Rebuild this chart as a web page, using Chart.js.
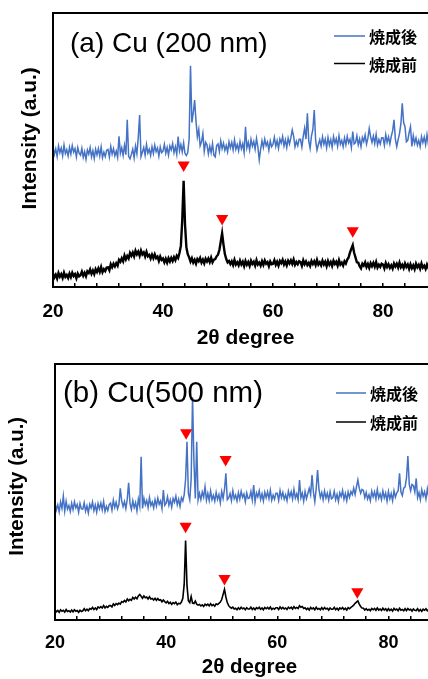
<!DOCTYPE html>
<html>
<head>
<meta charset="utf-8">
<script src="https://cdn.jsdelivr.net/npm/chart.js@4.4.0/dist/chart.umd.min.js"></script>
<style>
html, body { margin: 0; padding: 0; background: #fff; width: 428px; height: 679px; overflow: hidden; position: relative; }
canvas { position: absolute; left: 0; }
#chart_a { top: 0; }
#chart_b { top: 345px; }
</style>
</head>
<body>
<canvas id="chart_a" width="455" height="355"></canvas>
<canvas id="chart_b" width="460" height="340"></canvas>
<script>
// 2theta grid (degree), same for every pattern
var twoTheta = [
  20, 20.25, 20.5, 20.75, 21, 21.25, 21.5, 21.75, 22, 22.25, 22.5, 22.75, 23, 23.25, 23.5, 23.75, 24, 24.25, 24.5, 24.75,
  25, 25.25, 25.5, 25.75, 26, 26.25, 26.5, 26.75, 27, 27.25, 27.5, 27.75, 28, 28.25, 28.5, 28.75, 29, 29.25, 29.5, 29.75,
  30, 30.25, 30.5, 30.75, 31, 31.25, 31.5, 31.75, 32, 32.25, 32.5, 32.75, 33, 33.25, 33.5, 33.75, 34, 34.25, 34.5, 34.75,
  35, 35.25, 35.5, 35.75, 36, 36.25, 36.5, 36.75, 37, 37.25, 37.5, 37.75, 38, 38.25, 38.5, 38.75, 39, 39.25, 39.5, 39.75,
  40, 40.25, 40.5, 40.75, 41, 41.25, 41.5, 41.75, 42, 42.25, 42.5, 42.75, 43, 43.25, 43.5, 43.75, 44, 44.25, 44.5, 44.75,
  45, 45.25, 45.5, 45.75, 46, 46.25, 46.5, 46.75, 47, 47.25, 47.5, 47.75, 48, 48.25, 48.5, 48.75, 49, 49.25, 49.5, 49.75,
  50, 50.25, 50.5, 50.75, 51, 51.25, 51.5, 51.75, 52, 52.25, 52.5, 52.75, 53, 53.25, 53.5, 53.75, 54, 54.25, 54.5, 54.75,
  55, 55.25, 55.5, 55.75, 56, 56.25, 56.5, 56.75, 57, 57.25, 57.5, 57.75, 58, 58.25, 58.5, 58.75, 59, 59.25, 59.5, 59.75,
  60, 60.25, 60.5, 60.75, 61, 61.25, 61.5, 61.75, 62, 62.25, 62.5, 62.75, 63, 63.25, 63.5, 63.75, 64, 64.25, 64.5, 64.75,
  65, 65.25, 65.5, 65.75, 66, 66.25, 66.5, 66.75, 67, 67.25, 67.5, 67.75, 68, 68.25, 68.5, 68.75, 69, 69.25, 69.5, 69.75,
  70, 70.25, 70.5, 70.75, 71, 71.25, 71.5, 71.75, 72, 72.25, 72.5, 72.75, 73, 73.25, 73.5, 73.75, 74, 74.25, 74.5, 74.75,
  75, 75.25, 75.5, 75.75, 76, 76.25, 76.5, 76.75, 77, 77.25, 77.5, 77.75, 78, 78.25, 78.5, 78.75, 79, 79.25, 79.5, 79.75,
  80, 80.25, 80.5, 80.75, 81, 81.25, 81.5, 81.75, 82, 82.25, 82.5, 82.75, 83, 83.25, 83.5, 83.75, 84, 84.25, 84.5, 84.75,
  85, 85.25, 85.5, 85.75, 86, 86.25, 86.5, 86.75, 87, 87.25, 87.5, 87.75, 88, 88.25, 88.5, 88.75, 89, 89.25, 89.5, 89.75,
  90
];

// (a) Cu 200 nm
var afterA = [
  51.2, 48.4, 50.4, 47.6, 51.5, 49.0, 50.7, 47.9, 51.8, 48.7, 50.1, 47.8, 51.0, 48.5, 51.6, 49.2, 50.5, 47.5, 50.9, 48.8,
  48.1, 50.6, 47.3, 49.4, 46.6, 50.0, 48.5, 50.9, 47.5, 49.7, 46.9, 50.3, 48.2, 50.5, 47.8, 51.1, 47.2, 49.2, 47.6, 49.9,
  50.2, 47.4, 51.3, 48.5, 50.5, 47.9, 49.6, 47.3, 55.0, 48.8, 50.8, 48.0, 51.7, 48.3, 61.0, 47.7, 46.8, 48.4, 50.3, 47.1,
  51.4, 48.6, 54.5, 62.8, 47.6, 49.2, 50.9, 48.1, 52.0, 48.9, 50.3, 48.0, 51.2, 48.7, 51.8, 49.4, 50.7, 47.7, 51.1, 49.0,
  49.6, 52.1, 48.8, 50.9, 48.1, 51.5, 50.0, 52.4, 49.0, 51.2, 48.4, 54.9, 49.7, 52.0, 49.3, 52.6, 48.7, 48.0, 49.1, 54.0,
  80.7, 60.0, 63.5, 68.2, 60.5, 54.8, 57.5, 51.5, 53.0, 56.0, 49.5, 52.8, 51.9, 48.6, 51.4, 49.0, 52.3, 48.1, 47.5, 51.6,
  52.2, 49.4, 53.3, 50.5, 52.5, 49.9, 51.6, 49.3, 53.0, 50.8, 52.8, 50.0, 53.7, 50.3, 52.0, 49.7, 53.1, 50.4, 52.3, 49.1,
  58.5, 50.8, 52.8, 50.0, 53.9, 51.4, 53.1, 50.3, 54.2, 51.1, 46.4, 50.2, 53.4, 50.9, 54.0, 51.6, 52.9, 49.9, 53.3, 51.2,
  52.1, 54.6, 51.3, 53.4, 50.6, 54.0, 52.5, 54.9, 51.5, 53.7, 50.9, 54.3, 52.2, 54.5, 57.3, 55.1, 51.2, 53.2, 51.6, 53.9,
  53.9, 51.1, 55.0, 58.0, 54.0, 63.4, 53.3, 50.6, 55.2, 57.5, 64.6, 53.5, 50.0, 52.0, 53.7, 51.4, 54.8, 52.1, 54.0, 50.8,
  54.6, 51.8, 53.8, 51.0, 54.9, 52.4, 54.1, 51.3, 55.2, 52.1, 53.5, 51.2, 54.4, 51.9, 55.0, 52.6, 53.9, 50.9, 56.7, 52.2,
  52.7, 55.2, 51.9, 54.0, 51.2, 54.6, 53.1, 55.5, 52.1, 54.3, 57.9, 54.9, 52.8, 55.1, 52.4, 55.7, 51.8, 53.8, 52.2, 54.5,
  54.5, 51.7, 55.6, 52.8, 54.8, 52.2, 55.0, 57.0, 61.0, 54.0, 51.2, 53.8, 56.0, 59.5, 67.0, 60.0, 58.5, 53.0, 53.5, 56.3,
  58.5, 51.3, 55.2, 52.4, 54.4, 51.8, 53.5, 51.2, 54.9, 52.7, 54.7, 51.9, 55.6, 52.2, 53.9, 51.6, 55.0, 52.3, 54.2, 51.0,
  53.8
];
var beforeA = [
  4.9, 3.5, 4.5, 3.1, 5.1, 3.8, 4.7, 3.3, 5.2, 3.7, 4.4, 3.3, 4.9, 3.6, 5.2, 4.0, 4.7, 3.2, 4.9, 3.9,
  4.3, 5.6, 4.1, 5.2, 3.9, 5.7, 5.1, 6.4, 4.8, 6.0, 4.7, 6.5, 5.5, 6.8, 5.5, 7.3, 5.4, 6.5, 5.8, 7.1,
  7.2, 6.1, 8.3, 7.2, 8.5, 7.5, 8.7, 7.8, 9.9, 9.2, 10.5, 9.4, 11.5, 10.1, 11.3, 10.4, 12.4, 11.4, 12.6, 11.2,
  13.2, 11.9, 12.9, 11.4, 13.3, 11.9, 12.6, 11.1, 12.8, 11.2, 11.7, 10.4, 11.8, 10.5, 11.9, 10.5, 11.1, 9.5, 11.1, 9.9,
  10.4, 9.0, 10.3, 8.9, 10.5, 9.3, 10.6, 9.5, 10.9, 9.8, 11.4, 10.6, 12.5, 15.0, 24.5, 38.8, 23.0, 14.5, 12.0, 10.8,
  9.3, 10.5, 8.9, 9.9, 8.5, 10.2, 9.4, 10.6, 8.9, 10.0, 8.6, 10.3, 9.3, 10.4, 9.1, 10.7, 9.0, 10.0, 10.2, 11.2,
  11.8, 13.5, 16.5, 19.6, 15.5, 12.0, 10.2, 9.0, 9.5, 8.4, 9.4, 8.0, 9.9, 8.2, 9.0, 7.9, 9.6, 8.2, 9.2, 7.6,
  9.5, 8.1, 9.1, 7.7, 9.6, 8.4, 9.2, 7.8, 9.8, 8.2, 8.9, 7.8, 9.4, 8.1, 9.7, 8.5, 9.1, 7.6, 9.3, 8.3,
  8.5, 9.8, 8.1, 9.2, 7.8, 9.5, 8.7, 9.9, 8.2, 9.3, 7.9, 9.6, 8.6, 9.7, 8.4, 10.0, 8.1, 9.1, 8.3, 9.4,
  9.1, 7.7, 9.7, 8.3, 9.3, 8.0, 8.8, 7.7, 9.5, 8.4, 9.4, 8.0, 9.9, 8.2, 9.0, 7.9, 9.6, 8.2, 9.2, 7.6,
  9.5, 8.1, 9.1, 7.7, 9.6, 8.4, 9.2, 7.8, 9.8, 8.2, 8.9, 7.8, 9.4, 8.6, 10.0, 10.8, 12.6, 14.0, 15.3, 12.5,
  10.8, 9.0, 8.9, 7.6, 6.8, 8.5, 7.8, 9.0, 7.3, 8.4, 7.0, 8.7, 7.6, 8.8, 7.4, 9.1, 7.1, 8.1, 7.3, 8.5,
  8.2, 6.8, 8.7, 7.3, 8.3, 7.0, 7.9, 6.7, 8.6, 7.5, 8.5, 7.1, 8.9, 7.2, 8.1, 6.9, 8.6, 7.3, 8.2, 6.6,
  8.3, 6.9, 7.9, 6.5, 8.5, 7.2, 8.1, 6.7, 8.6, 7.1, 7.8, 6.6, 8.2, 7.0, 8.5, 7.3, 8.0, 6.5, 8.2, 7.1,
  7.4
];
var markA_x = [43.75, 50.75, 74.5];
var markA_y = [44.5, 25.0, 20.5];

// (b) Cu 500 nm
var afterB = [
  45.8, 43.0, 45.0, 42.2, 46.1, 43.6, 48.4, 42.5, 46.4, 43.3, 44.7, 42.4, 45.6, 43.1, 46.2, 43.8, 45.1, 42.1, 45.5, 43.4,
  43.3, 45.8, 42.5, 44.6, 41.8, 45.2, 43.7, 46.1, 42.7, 44.9, 42.1, 45.5, 43.4, 45.7, 43.0, 46.3, 42.4, 44.4, 42.8, 45.1,
  45.7, 42.9, 46.8, 44.0, 46.0, 43.4, 45.1, 51.4, 46.5, 44.3, 46.3, 43.5, 47.2, 53.6, 45.5, 43.2, 46.6, 43.9, 45.8, 42.6,
  47.2, 44.4, 63.8, 43.6, 47.5, 45.0, 46.7, 43.9, 47.8, 44.7, 46.1, 43.8, 47.0, 44.5, 47.6, 45.2, 46.5, 43.5, 50.8, 44.8,
  45.6, 48.1, 44.8, 46.9, 44.1, 47.5, 46.0, 48.4, 45.0, 47.2, 44.4, 47.8, 46.5, 49.0, 55.0, 69.6, 49.5, 47.0, 55.0, 87.0,
  62.0, 47.5, 69.6, 46.9, 49.5, 47.0, 50.0, 48.0, 52.0, 46.8, 49.5, 46.7, 50.4, 47.0, 48.7, 46.4, 49.8, 47.1, 49.0, 45.8,
  50.2, 47.5, 51.0, 57.3, 47.0, 47.7, 49.4, 46.6, 50.5, 47.4, 48.8, 46.5, 49.7, 47.2, 50.3, 47.9, 49.2, 46.2, 49.6, 47.5,
  47.7, 50.2, 46.9, 52.7, 46.2, 49.6, 48.1, 50.5, 47.1, 49.3, 46.5, 49.9, 47.8, 50.1, 47.4, 50.7, 46.8, 48.8, 47.2, 49.5,
  49.5, 46.7, 50.6, 47.8, 49.8, 47.2, 48.9, 46.6, 50.3, 48.1, 50.1, 47.3, 51.0, 47.6, 49.3, 47.0, 54.7, 47.7, 49.6, 46.4,
  50.2, 47.4, 49.4, 51.4, 49.0, 56.6, 50.0, 46.2, 51.2, 58.6, 51.0, 47.9, 49.8, 47.0, 50.4, 47.6, 49.5, 46.8, 50.1, 47.3,
  47.8, 50.3, 47.0, 49.1, 46.3, 49.7, 48.2, 50.6, 47.2, 49.4, 46.6, 50.0, 47.9, 50.2, 49.0, 51.5, 49.0, 52.0, 54.7, 51.5,
  49.5, 51.0, 50.6, 47.8, 49.8, 47.2, 48.9, 46.6, 50.3, 48.1, 50.1, 47.3, 51.0, 47.6, 49.3, 47.0, 50.4, 47.7, 49.6, 46.4,
  50.2, 47.4, 49.4, 46.6, 50.5, 48.0, 49.7, 50.5, 57.3, 50.0, 48.6, 51.5, 52.0, 55.5, 64.0, 53.0, 50.5, 53.0, 52.5, 50.0,
  55.3, 47.8, 49.8, 47.0, 50.9, 48.4, 50.1, 47.3, 51.2, 48.1, 49.5, 47.2, 50.4, 47.9, 51.0, 48.6, 49.9, 46.9, 50.3, 48.2,
  49.8
];
var beforeB = [
  3.9, 3.2, 3.7, 3.0, 4.0, 3.4, 3.8, 3.1, 4.1, 3.3, 3.6, 3.1, 3.9, 3.2, 4.0, 3.4, 3.7, 3.0, 3.8, 3.3,
  3.6, 4.4, 3.6, 4.2, 3.6, 4.5, 4.2, 4.9, 4.1, 4.7, 4.1, 5.1, 4.7, 5.2, 4.7, 5.6, 4.7, 5.3, 4.9, 5.6,
  5.6, 5.1, 6.3, 5.7, 6.4, 6.0, 6.6, 6.2, 7.2, 6.9, 7.6, 7.1, 8.2, 7.5, 8.1, 7.7, 8.8, 8.2, 8.9, 8.3,
  9.4, 10.0, 9.3, 8.5, 9.4, 8.7, 9.0, 8.2, 9.1, 8.2, 8.4, 7.8, 8.5, 7.7, 8.4, 7.7, 7.9, 7.1, 7.8, 7.2,
  6.7, 7.3, 6.4, 6.9, 6.1, 6.8, 6.4, 7.0, 6.0, 6.5, 6.3, 7.0, 8.5, 14.0, 31.0, 13.5, 7.5, 6.8, 9.2, 6.6,
  6.4, 7.4, 6.2, 5.8, 6.1, 5.5, 5.9, 5.3, 6.2, 5.7, 6.2, 5.5, 6.4, 5.6, 6.0, 5.4, 6.3, 6.0, 6.5, 7.0,
  8.0, 10.0, 12.0, 9.0, 6.8, 5.6, 5.0, 4.6, 5.0, 4.3, 4.6, 4.0, 4.8, 4.2, 5.0, 4.4, 4.7, 4.0, 4.8, 4.3,
  4.3, 5.0, 4.1, 4.7, 4.0, 4.8, 4.4, 5.0, 4.2, 4.7, 4.0, 4.9, 4.4, 4.9, 4.3, 5.1, 4.1, 4.6, 4.2, 4.8,
  4.8, 4.1, 5.1, 4.4, 4.9, 4.3, 4.7, 4.1, 5.0, 4.5, 5.0, 4.3, 5.2, 4.5, 4.9, 4.5, 5.6, 5.0, 5.3, 4.5,
  4.8, 4.1, 4.6, 3.9, 4.9, 4.3, 4.7, 4.0, 5.0, 4.2, 4.5, 4.0, 4.8, 4.1, 4.9, 4.3, 4.6, 3.9, 4.7, 4.2,
  4.2, 4.9, 4.0, 4.6, 3.9, 4.7, 4.3, 4.9, 4.1, 4.6, 3.9, 4.8, 4.4, 4.9, 5.3, 5.8, 6.5, 7.0, 7.5, 6.2,
  5.3, 4.7, 4.6, 3.9, 4.4, 3.8, 4.2, 3.6, 4.5, 4.0, 4.5, 3.8, 4.7, 3.9, 4.3, 3.7, 4.6, 3.9, 4.4, 3.6,
  4.4, 3.7, 4.2, 3.5, 4.5, 3.9, 4.3, 3.6, 4.6, 3.8, 4.1, 3.6, 4.4, 3.7, 4.5, 3.9, 4.2, 3.5, 4.3, 3.8,
  3.7, 4.4, 3.5, 4.1, 3.4, 4.2, 3.8, 4.4, 3.6, 4.1, 3.4, 4.3, 3.8, 4.3, 3.7, 4.5, 3.5, 4.0, 3.6, 4.2,
  3.8
];
var markB_x = [43.6, 50.7, 43.5, 50.5, 74.4];
var markB_y = [73.1, 62.7, 36.6, 16.2, 11.0];

var seriesNames = ['焼成後', '焼成前'];
var seriesColors = ['#4472c4', '#000000'];

var FONT = '"Liberation Sans", Arial, "Noto Sans CJK JP", sans-serif';
var CJK = '"Noto Sans CJK JP", "Liberation Sans", sans-serif';

function toXY(xs, ys) {
  var out = [];
  for (var i = 0; i < xs.length; i++) {
    out.push({x: xs[i], y: ys[i]});
  }
  return out;
}

// frame, panel title and legend, drawn on top of the plot
var panelDeco = {
  id: 'panelDeco',
  afterDraw: function(chart, args, opts) {
    var ctx = chart.ctx, a = chart.chartArea;
    ctx.save();
    ctx.strokeStyle = '#000';
    ctx.lineWidth = 2;
    ctx.strokeRect(a.left, a.top, a.right - a.left, a.bottom - a.top);

    ctx.fillStyle = '#000';
    ctx.textBaseline = 'alphabetic';
    ctx.textAlign = 'left';
    ctx.font = opts.titleSize + 'px ' + FONT;
    ctx.fillText(opts.title, a.left + opts.titleDx, a.top + opts.titleDy);

    ctx.font = 'bold 16px ' + CJK;
    ctx.textBaseline = 'middle';
    var row = 0;
    chart.data.datasets.forEach(function(ds) {
      if (!ds.inLegend) return;
      var y = a.top + opts.legendDy + row * opts.legendGap;
      var x0 = a.right - opts.legendDx;
      ctx.strokeStyle = ds.borderColor;
      ctx.lineWidth = 1.5;
      ctx.beginPath();
      ctx.moveTo(x0, y);
      ctx.lineTo(x0 + opts.lineLen, y);
      ctx.stroke();
      ctx.fillText(ds.label, x0 + opts.lineLen + 4, y + 1);
      row++;
    });
    ctx.restore();
  }
};

function makePanel(id, p) {
  var ctx = document.getElementById(id).getContext('2d');
  return new Chart(ctx, {
    type: 'line',
    data: {
      datasets: [
        {
          label: 'peaks',
          data: toXY(p.markX, p.markY),
          showLine: false,
          pointStyle: 'triangle',
          rotation: 180,
          pointRadius: 7,
          pointBackgroundColor: '#ff0000',
          pointBorderColor: '#ff0000',
          pointBorderWidth: 0
        },
        {
          label: seriesNames[0],
          data: toXY(twoTheta, p.after),
          borderColor: seriesColors[0],
          borderWidth: p.afterWidth,
          pointRadius: 0,
          tension: 0,
          inLegend: true
        },
        {
          label: seriesNames[1],
          data: toXY(twoTheta, p.before),
          borderColor: seriesColors[1],
          borderWidth: p.beforeWidth,
          pointRadius: 0,
          tension: 0,
          inLegend: true
        }
      ]
    },
    options: {
      responsive: false,
      animation: false,
      // tick padding is also added on the right of the x scale, so the canvas is wider than the page
      layout: { padding: { top: p.padTop, right: 0, bottom: 0, left: 0 } },
      plugins: {
        legend: { display: false },
        tooltip: { enabled: false },
        panelDeco: p.deco
      },
      scales: {
        x: {
          type: 'linear',
          min: 20,
          max: 90,
          ticks: {
            stepSize: 4,
            autoSkip: false,
            maxRotation: 0,
            padding: p.tickPad,
            color: '#000',
            font: { family: FONT, size: p.tickSize, weight: 'bold' },
            callback: function(v) { return v % 20 === 0 ? v : ''; }
          },
          grid: { drawOnChartArea: false, drawTicks: true, tickLength: -4, color: '#000', lineWidth: 1.5 },
          border: { display: true, color: '#000', width: 2 },
          title: {
            display: true,
            text: '2θ degree',
            color: '#000',
            font: { family: FONT, size: p.xTitleSize, weight: 'bold' },
            padding: { top: 0, bottom: p.xTitlePad }
          },
          afterFit: function(s) { s.height = p.xAxisHeight; }
        },
        y: {
          min: 0,
          max: 100,
          ticks: { display: false },
          grid: { display: false },
          border: { display: true, color: '#000', width: 2 },
          title: {
            display: true,
            text: p.yTitle,
            color: '#000',
            font: { family: FONT, size: p.yTitleSize, weight: 'bold' },
            padding: { top: p.yTitlePad, bottom: 0 }
          },
          afterFit: function(s) { s.width = p.yAxisWidth; }
        }
      }
    },
    plugins: [panelDeco]
  });
}

makePanel('chart_a', {
  after: afterA, before: beforeA, markX: markA_x, markY: markA_y,
  afterWidth: 1.5, beforeWidth: 2.4,
  padTop: 13, yAxisWidth: 53, xAxisHeight: 68,
  tickPad: 17, tickSize: 19, xTitleSize: 21, xTitlePad: 4,
  yTitle: '    Intensity (a.u.)', yTitleSize: 21, yTitlePad: 17.7,
  deco: { title: '(a) Cu (200 nm)', titleSize: 28, titleDx: 17, titleDy: 38.5,
          legendDx: 104, legendDy: 23, legendGap: 27.5, lineLen: 31 }
});

makePanel('chart_b', {
  after: afterB, before: beforeB, markX: markB_x, markY: markB_y,
  afterWidth: 1.5, beforeWidth: 1.6,
  padTop: 19, yAxisWidth: 55, xAxisHeight: 65,
  tickPad: 16, tickSize: 18, xTitleSize: 20.5, xTitlePad: 5,
  yTitle: '  Intensity (a.u.)', yTitleSize: 20.5, yTitlePad: 5.2,
  deco: { title: '(b) Cu(500 nm)', titleSize: 29.5, titleDx: 8, titleDy: 37.5,
          legendDx: 108, legendDy: 29, legendGap: 29, lineLen: 30 }
});
</script>
</body>
</html>
